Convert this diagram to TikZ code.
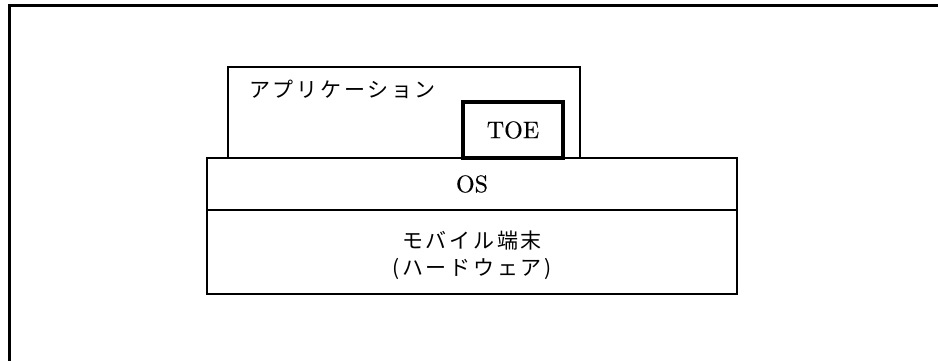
\documentclass[tikz,border=0pt]{standalone}
\usepackage{fontspec}
\newfontfamily\jp[LetterSpace=13]{Noto Sans CJK JP}
\newfontfamily\lat[FakeBold=0.4]{lmroman10-regular.otf}
\begin{document}
\begin{tikzpicture}[x=1pt,y=-1pt,
  layerbox/.style={draw,line width=1.5pt,inner sep=0pt,rectangle},
  toebox/.style={draw,line width=3.5pt,inner sep=0pt,rectangle,fill=white},
  jptext/.style={font=\jp\fontsize{21}{27}\selectfont,inner sep=0pt,align=center},
  lttext/.style={font=\lat\fontsize{24}{26}\selectfont,inner sep=0pt}]
\useasboundingbox (0,0) rectangle (938,360);
% outer frame (top and left only)
\coordinate (ftl) at (9.5,5.5);
\coordinate (ftr) at (940,5.5);
\coordinate (fbl) at (9.5,362);
\draw[line width=3.5pt] (fbl) -- (ftl) -- (ftr);
% application box
\node[layerbox,minimum width=352pt,minimum height=91pt] (app) at (404,112.5) {};
\node[jptext,anchor=west] (apptext) at (249,89) {アプリケーション};
% TOE box
\node[toebox,minimum width=100pt,minimum height=56pt,lttext] (toe) at (513,130) {TOE};
% OS box
\node[layerbox,minimum width=530pt,minimum height=52pt,lttext] (os) at (472,184) {OS};
% hardware box
\node[layerbox,minimum width=530pt,minimum height=84pt] (hw) at (472,252) {};
\node[jptext] (hwtext) at (472,255) {モバイル端末\\(ハードウェア)};
\end{tikzpicture}
\end{document}
